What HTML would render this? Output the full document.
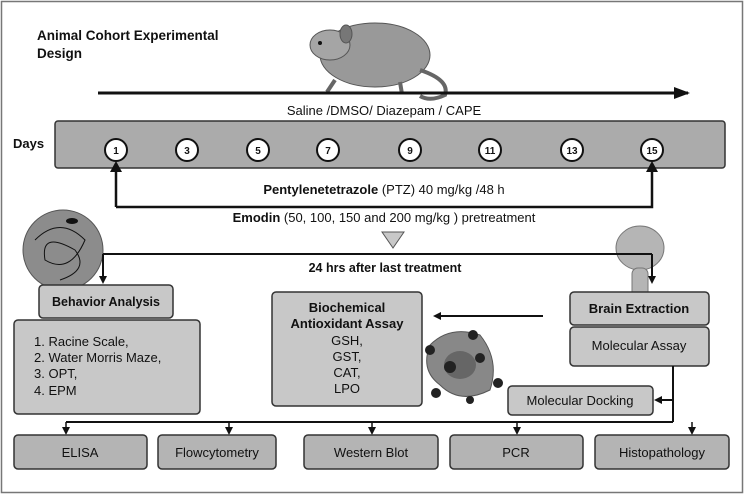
<!DOCTYPE html>
<html><head><meta charset="utf-8"><style>
body{margin:0;background:#fff}
svg{display:block;font-family:"Liberation Sans",sans-serif}
.b{font-weight:bold}
</style></head><body>
<svg width="744" height="494" viewBox="0 0 744 494">
<defs><marker id="a" markerWidth="8" markerHeight="8" refX="6" refY="4" orient="auto" markerUnits="userSpaceOnUse"><path d="M0,0 L8,4 L0,8z" fill="#111"/></marker>
<marker id="big" markerWidth="16" markerHeight="12" refX="14" refY="6" orient="auto" markerUnits="userSpaceOnUse"><path d="M0,0 L16,6 L0,12z" fill="#111"/></marker></defs>
<rect x="1.5" y="1.5" width="741" height="491" fill="#fff" stroke="#777" stroke-width="1.5"/>
<text x="37" y="40" font-size="13.5" class="b" fill="#111">Animal Cohort Experimental</text>
<text x="37" y="58" font-size="13.5" class="b" fill="#111">Design</text>
<!-- mouse -->
<g fill="#8a8a8a" stroke="#555">
<ellipse cx="375" cy="55" rx="55" ry="32" fill="#999"/>
<ellipse cx="330" cy="45" rx="20" ry="15" fill="#a5a5a5"/>
<ellipse cx="346" cy="34" rx="6" ry="9" fill="#777"/>
<path d="M420,70 Q450,80 445,95 Q430,102 420,96" fill="none" stroke="#666" stroke-width="4"/>
<path d="M335,80 l-8,12 M400,82 l2,12" stroke="#666" stroke-width="4"/>
</g>
<circle cx="320" cy="43" r="2" fill="#111"/>
<line x1="98" y1="93" x2="688" y2="93" stroke="#111" stroke-width="3" marker-end="url(#big)"/>
<text x="384" y="115" font-size="13" text-anchor="middle" fill="#111">Saline /DMSO/ Diazepam / CAPE</text>
<rect x="55" y="121" width="670" height="47" rx="3" fill="#ababab" stroke="#333" stroke-width="1.5"/>
<text x="13" y="148" font-size="13" class="b" fill="#111">Days</text>
<g font-size="10" class="b" text-anchor="middle" fill="#111">
<g stroke="#111" stroke-width="2" fill="#fff">
<circle cx="116" cy="150" r="11"/><circle cx="187" cy="150" r="11"/><circle cx="258" cy="150" r="11"/><circle cx="328" cy="150" r="11"/><circle cx="410" cy="150" r="11"/><circle cx="490" cy="150" r="11"/><circle cx="572" cy="150" r="11"/><circle cx="652" cy="150" r="11"/></g>
<text x="116" y="154">1</text><text x="187" y="154">3</text><text x="258" y="154">5</text><text x="328" y="154">7</text><text x="410" y="154">9</text><text x="490" y="154">11</text><text x="572" y="154">13</text><text x="652" y="154">15</text>
</g>
<path d="M116,207 L116,164 M116,207 L652,207 L652,164" fill="none" stroke="#111" stroke-width="2.5"/>
<path d="M110,172 L116,161 L122,172z M646,172 L652,161 L658,172z" fill="#111"/>
<text x="384" y="194" font-size="13" text-anchor="middle" fill="#111"><tspan class="b">Pentylenetetrazole</tspan> (PTZ) 40 mg/kg /48 h</text>
<text x="384" y="222" font-size="13" text-anchor="middle" fill="#111"><tspan class="b">Emodin</tspan> (50, 100, 150 and 200 mg/kg ) pretreatment</text>
<path d="M382,232 L404,232 L393,248z" fill="#c8c8c8" stroke="#555"/>
<circle cx="63" cy="250" r="40" fill="#8c8c8c" stroke="#555"/>
<path d="M35,240 Q60,215 85,240 Q70,275 45,260 Q40,230 75,250 Q90,270 60,280" fill="none" stroke="#111"/>
<ellipse cx="72" cy="221" rx="6" ry="3" fill="#111"/>
<g fill="#b5b5b5" stroke="#777"><ellipse cx="640" cy="248" rx="24" ry="22"/><rect x="632" y="268" width="16" height="30" rx="6"/></g>
<path d="M103,254 L652,254" stroke="#111" stroke-width="2"/>
<line x1="103" y1="254" x2="103" y2="282" stroke="#111" stroke-width="2" marker-end="url(#a)"/>
<line x1="652" y1="254" x2="652" y2="282" stroke="#111" stroke-width="2" marker-end="url(#a)"/>
<text x="385" y="272" font-size="12.5" class="b" text-anchor="middle" fill="#111">24 hrs after last treatment</text>
<g stroke="#333" stroke-width="1.5" fill="#c8c8c8">
<rect x="39" y="285" width="134" height="33" rx="4"/>
<rect x="14" y="320" width="186" height="94" rx="4"/>
<rect x="272" y="292" width="150" height="114" rx="4"/>
<rect x="570" y="292" width="139" height="33" rx="4"/>
<rect x="570" y="327" width="139" height="39" rx="4"/>
<rect x="508" y="386" width="145" height="29" rx="4"/>
</g>
<text x="106" y="306" font-size="12.5" class="b" text-anchor="middle" fill="#111">Behavior Analysis</text>
<g font-size="13" fill="#111"><text x="34" y="346">1.  Racine Scale,</text><text x="34" y="362">2.  Water Morris Maze,</text><text x="34" y="378">3.  OPT,</text><text x="34" y="395">4.  EPM</text></g>
<g font-size="13" text-anchor="middle" fill="#111"><text x="347" y="312" class="b">Biochemical</text><text x="347" y="328" class="b">Antioxidant Assay</text><text x="347" y="345">GSH,</text><text x="347" y="361">GST,</text><text x="347" y="377">CAT,</text><text x="347" y="393">LPO</text>
<text x="639" y="313" class="b">Brain Extraction</text><text x="639" y="350">Molecular Assay</text><text x="580" y="405">Molecular Docking</text></g>
<line x1="543" y1="316" x2="435" y2="316" stroke="#111" stroke-width="2" marker-end="url(#a)"/>
<path d="M430,345 Q450,325 480,335 Q500,360 490,390 Q460,405 440,385 Q420,370 430,345z" fill="#888" stroke="#555"/>
<ellipse cx="460" cy="365" rx="16" ry="14" fill="#666"/>
<g fill="#222"><circle cx="473" cy="335" r="5"/><circle cx="430" cy="350" r="5"/><circle cx="450" cy="367" r="6"/><circle cx="480" cy="358" r="5"/><circle cx="498" cy="383" r="5"/><circle cx="436" cy="393" r="5"/><circle cx="470" cy="400" r="4"/></g>
<path d="M673,366 L673,422 M66,422 L673,422" fill="none" stroke="#111" stroke-width="2"/>
<line x1="673" y1="400" x2="656" y2="400" stroke="#111" stroke-width="2" marker-end="url(#a)"/>
<g stroke="#111" stroke-width="1.5">
<line x1="66" y1="422" x2="66" y2="433" marker-end="url(#a)"/><line x1="229" y1="422" x2="229" y2="433" marker-end="url(#a)"/><line x1="372" y1="422" x2="372" y2="433" marker-end="url(#a)"/><line x1="517" y1="422" x2="517" y2="433" marker-end="url(#a)"/><line x1="692" y1="422" x2="692" y2="433" marker-end="url(#a)"/></g>
<g stroke="#333" stroke-width="1.5" fill="#b4b4b4">
<rect x="14" y="435" width="133" height="34" rx="4"/><rect x="158" y="435" width="118" height="34" rx="4"/><rect x="304" y="435" width="134" height="34" rx="4"/><rect x="450" y="435" width="133" height="34" rx="4"/><rect x="595" y="435" width="134" height="34" rx="4"/></g>
<g font-size="13" text-anchor="middle" fill="#111"><text x="80" y="457">ELISA</text><text x="217" y="457">Flowcytometry</text><text x="371" y="457">Western Blot</text><text x="516" y="457">PCR</text><text x="662" y="457">Histopathology</text></g>
</svg>
</body></html>
